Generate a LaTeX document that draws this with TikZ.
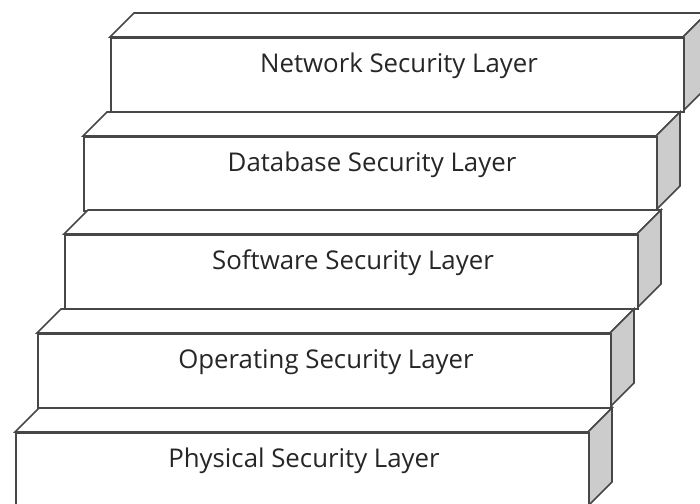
\documentclass[tikz,border=0pt]{standalone}
\usepackage{fontspec}
\setmainfont{Open Sans}
\tikzset{
  edge/.style={draw=black!72, line width=1.6pt, line join=miter},
  sideface/.style={edge, fill=black!20},
  topface/.style={edge, fill=white},
  frontface/.style={edge, fill=white, rectangle, inner sep=0pt, minimum width=573pt, minimum height=74pt, anchor=north west},
  layertext/.style={font=\fontsize{25.8}{30}\selectfont, text=black!85, anchor=base, inner sep=0pt}
}
\begin{document}
\begin{tikzpicture}[x=1pt,y=-1pt]
\useasboundingbox (0,0) rectangle (700,503);
\clip (0,0) rectangle (700,503);
\foreach \i/\L/\T/\txt in {1/110/37/Network Security Layer,
                          2/83/136/Database Security Layer,
                          3/64/234/Software Security Layer,
                          4/37/333/Operating Security Layer,
                          5/15/432/Physical Security Layer}{
  \pgfmathsetmacro{\R}{\L+573}
  \pgfmathsetmacro{\B}{\T+74}
  \coordinate (tl\i) at (\L,\T);
  \coordinate (tr\i) at (\R,\T);
  \coordinate (br\i) at (\R,\B);
  \path[topface] (tl\i) -- ++(24,-24) -- ([shift={(24,-24)}]tr\i) -- (tr\i) -- cycle;
  \path[sideface] (tr\i) -- ++(24,-24) -- ([shift={(24,-24)}]br\i) -- (br\i) -- cycle;
  \node[frontface] (f\i) at (tl\i) {};
  \node[layertext] (t\i) at (\L+289,\T+35) {\txt};
}
\end{tikzpicture}
\end{document}
